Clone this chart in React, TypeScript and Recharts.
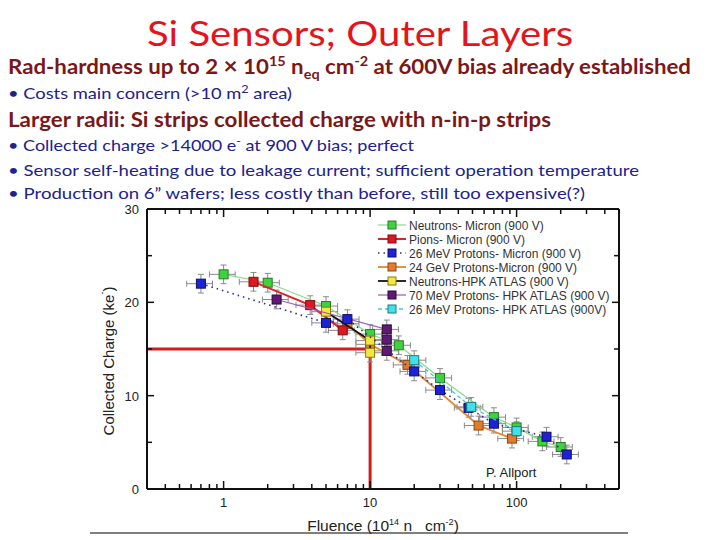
import React from 'react';
import {
  ScatterChart, Scatter, XAxis, YAxis, ErrorBar, ReferenceLine, ReferenceDot, Legend,
} from 'recharts';

// ---------- data (fluence in 1e14 n/cm^2, collected charge in ke-) ----------
const neutronsMicronFluence = [1, 2, 5, 10, 15.7, 30, 70, 100, 150, 200];
const neutronsMicronCharge = [23.0, 22.1, 19.6, 16.6, 15.4, 11.9, 7.7, 6.6, 5.1, 4.5];

const pionsMicronFluence = [1.6, 3.9, 6.5];
const pionsMicronCharge = [22.2, 19.7, 17.0];

const p26MicronFluence = [0.7, 5, 7, 20, 30, 47, 70, 160, 220];
const p26MicronCharge = [22.0, 17.8, 18.2, 12.6, 10.6, 8.7, 7.0, 5.6, 3.7];

const p24GeVMicronFluence = [7, 10, 18, 55, 93];
const p24GeVMicronCharge = [17.7, 15.5, 13.3, 6.8, 5.4];

const neutronsHpkFluence = [5, 10, 10];
const neutronsHpkCharge = [19.0, 15.9, 14.6];

const p70HpkFluence = [2.3, 13, 13, 13];
const p70HpkCharge = [20.3, 17.1, 16.0, 14.8];

const p26HpkFluence = [20, 49, 100];
const p26HpkCharge = [13.8, 8.8, 6.2];

const X_ERR_FRAC = 0.2;
const Y_ERR = 1.0;

const xTicks = [0.3, 0.4, 0.5, 0.6, 0.7, 0.8, 0.9, 1, 2, 3, 4, 5, 6, 7, 8, 9, 10, 20, 30, 40, 50, 60, 70, 80, 90, 100, 200, 300, 400, 500];
const xMajorTicks = [1, 10, 100];
const yTicks = [0, 5, 10, 15, 20, 25, 30];
const yMajorTicks = [0, 10, 20, 30];

const thresholdCharge = 15;
const thresholdFluence = 10;

const build = (f: number[], q: number[]) =>
  f.map((x, i) => ({ x, y: q[i], ex: [x * X_ERR_FRAC, x * X_ERR_FRAC], ey: Y_ERR }));

const SERIES = [
  { name: 'Neutrons- Micron (900 V)', data: build(neutronsMicronFluence, neutronsMicronCharge), line: '#8ad88a', lw: 1.2, dash: undefined, fill: '#3fd23f', border: '#2a7a2a' },
  { name: 'Pions- Micron (900 V)', data: build(pionsMicronFluence, pionsMicronCharge), line: '#e0202a', lw: 2, dash: undefined, fill: '#dd1822', border: '#7a1010' },
  { name: '26 MeV Protons- Micron (900 V)', data: build(p26MicronFluence, p26MicronCharge), line: '#2a2a9a', lw: 1.6, dash: '1.5 4', fill: '#1c22d8', border: '#101060' },
  { name: '24 GeV Protons-Micron (900 V)', data: build(p24GeVMicronFluence, p24GeVMicronCharge), line: '#e08838', lw: 1.8, dash: undefined, fill: '#e47a2c', border: '#8a4a14' },
  { name: 'Neutrons-HPK ATLAS (900 V)', data: build(neutronsHpkFluence, neutronsHpkCharge), line: '#111111', lw: 1.8, dash: undefined, fill: '#f2e640', border: '#8a7a10' },
  { name: '70 MeV Protons- HPK ATLAS (900 V)', data: build(p70HpkFluence, p70HpkCharge), line: '#9a5ab8', lw: 1.2, dash: undefined, fill: '#5e1a74', border: '#2a0a36' },
  { name: '26 MeV Protons- HPK ATLAS (900V)', data: build(p26HpkFluence, p26HpkCharge), line: '#48c8d8', lw: 1.3, dash: '4 3', fill: '#40e2ea', border: '#1e7a82' },
];

// draw order (later on top)
const DRAW_ORDER = [0, 3, 1, 4, 5, 2, 6];

const AXIS_FONT = '"Liberation Sans", Arial, sans-serif';

const makeShape = (fill: string, stroke: string) => (p: any) => (
  <rect x={p.cx - 4.5} y={p.cy - 4.5} width={9} height={9} fill={fill} stroke={stroke} strokeWidth={1} />
);

const NoShape = () => <g />;

const BottomTick = (p: any) => {
  const v = p.payload.value;
  const major = xMajorTicks.includes(v);
  return (
    <g>
      <line x1={p.x} x2={p.x} y1={p.y} y2={p.y - (major ? 8 : 5)} stroke="#111" strokeWidth={1.5} />
      {major && (
        <text x={p.x} y={p.y + 18} textAnchor="middle" fontSize={13} fontFamily={AXIS_FONT} fill="#222">{v}</text>
      )}
    </g>
  );
};

const TopTick = (p: any) => {
  const v = p.payload.value;
  const major = xMajorTicks.includes(v);
  return <line x1={p.x} x2={p.x} y1={p.y} y2={p.y + (major ? 8 : 5)} stroke="#111" strokeWidth={1.5} />;
};

const LeftTick = (p: any) => {
  const v = p.payload.value;
  const major = yMajorTicks.includes(v);
  return (
    <g>
      <line x1={p.x} x2={p.x + (major ? 7 : 5)} y1={p.y} y2={p.y} stroke="#111" strokeWidth={1.5} />
      {major && (
        <text x={p.x - 8} y={p.y + 5} textAnchor="end" fontSize={13} fontFamily={AXIS_FONT} fill="#222">{v}</text>
      )}
    </g>
  );
};

const RightTick = (p: any) => {
  const v = p.payload.value;
  const major = yMajorTicks.includes(v);
  return <line x1={p.x} x2={p.x - (major ? 7 : 5)} y1={p.y} y2={p.y} stroke="#111" strokeWidth={1.5} />;
};

const XLabel = (p: any) => {
  const vb = p.viewBox || { x: 147, y: 489, width: 472, height: 30 };
  return (
    <text x={vb.x + vb.width / 2} y={vb.y + 42} textAnchor="middle" fontSize={15.5} fontFamily={AXIS_FONT} fill="#222">
      Fluence (10<tspan dy={-6} fontSize={9}>14</tspan><tspan dy={6}> n</tspan><tspan>{'\u00a0\u00a0\u00a0'}cm</tspan>
      <tspan dy={-6} fontSize={9}>-2</tspan><tspan dy={6}>)</tspan>
    </text>
  );
};

const YLabel = (p: any) => {
  const vb = p.viewBox || { x: 87, y: 209, width: 60, height: 280 };
  const cx = vb.x + 21;
  const cy = vb.y + vb.height / 2 + 12;
  return (
    <text x={cx} y={cy} transform={`rotate(-90 ${cx} ${cy})`} textAnchor="middle" dominantBaseline="central" fontSize={15} fontFamily={AXIS_FONT} fill="#222">
      Collected Charge (ke<tspan dy={-6} fontSize={9}>-</tspan><tspan dy={6}>)</tspan>
    </text>
  );
};

const renderLegend = () => (
  <svg width={240} height={100} style={{ display: 'block' }}>
    {SERIES.map((s, i) => {
      const cy = 7 + i * 14;
      return (
        <g key={s.name}>
          <line x1={0} x2={28} y1={cy} y2={cy} stroke={s.line} strokeWidth={s.lw} strokeDasharray={s.dash} />
          <rect x={10} y={cy - 4} width={8} height={8} fill={s.fill} stroke={s.border} strokeWidth={1} />
          <text x={31} y={cy + 4.5} fontSize={12} fontFamily={AXIS_FONT} fill="#333">{s.name}</text>
        </g>
      );
    })}
  </svg>
);

const SLIDE_FONT = 'Lato, "Open Sans", sans-serif';
const DARK_RED = '#7a1818';
const NAVY = '#20228c';

function SlideText() {
  return (
    <svg width={720} height={540} style={{ position: 'absolute', left: 0, top: 0 }}>
      <text x={360} y={46} textAnchor="middle" fontSize={35} fill="#e3141c" fontFamily={SLIDE_FONT} textLength={426} lengthAdjust="spacingAndGlyphs">
        Si Sensors; Outer Layers
      </text>
      <text x={8} y={74} fontSize={20} fontWeight="bold" fill={DARK_RED} fontFamily={SLIDE_FONT} textLength={683} lengthAdjust="spacingAndGlyphs">
        Rad-hardness up to 2 <tspan fontSize={22}>{'\u00d7'}</tspan> 10<tspan dy={-8} fontSize={13}>15</tspan>
        <tspan dy={8}> n</tspan><tspan dy={5} fontSize={13}>eq</tspan><tspan dy={-5}> cm</tspan>
        <tspan dy={-8} fontSize={13}>-2</tspan><tspan dy={8}> at 600V bias already established</tspan>
      </text>
      <text x={8} y={99} fontSize={16} fill={NAVY} fontFamily={SLIDE_FONT} textLength={284} lengthAdjust="spacingAndGlyphs">
        {'\u2022 '}Costs main concern ({'>'}10 m<tspan dy={-6} fontSize={11}>2</tspan><tspan dy={6}> area)</tspan>
      </text>
      <text x={8} y={127} fontSize={20} fontWeight="bold" fill={DARK_RED} fontFamily={SLIDE_FONT} textLength={543} lengthAdjust="spacingAndGlyphs">
        Larger radii: Si strips collected charge with n-in-p strips
      </text>
      <text x={8} y={151} fontSize={16} fill={NAVY} fontFamily={SLIDE_FONT} textLength={406} lengthAdjust="spacingAndGlyphs">
        {'\u2022 '}Collected charge {'>'}14000 e<tspan dy={-6} fontSize={11}>-</tspan><tspan dy={6}> at 900 V bias; perfect</tspan>
      </text>
      <text x={8} y={176} fontSize={16} fill={NAVY} fontFamily={SLIDE_FONT} textLength={631} lengthAdjust="spacingAndGlyphs">
        {'\u2022 '}Sensor self-heating due to leakage current; sufficient operation temperature
      </text>
      <text x={8} y={199} fontSize={16} fill={NAVY} fontFamily={SLIDE_FONT} textLength={577} lengthAdjust="spacingAndGlyphs">
        {'\u2022 '}Production on 6{'\u201d'} wafers; less costly than before, still too expensive(?)
      </text>
      <line x1={90} x2={628} y1={533} y2={533} stroke="#555" strokeWidth={1.5} />
    </svg>
  );
}

export default function App() {
  return (
    <div style={{ position: 'absolute', left: 0, top: 0, width: 720, height: 540, background: '#fff', overflow: 'hidden' }}>
      <SlideText />
      <div style={{ position: 'absolute', left: 0, top: 0 }}>
        <ScatterChart width={720} height={540} margin={{ top: 208, right: 100, bottom: 21, left: 87 }}>
          <XAxis
            dataKey="x" type="number" scale="log" domain={[0.3, 500]} allowDataOverflow
            ticks={xTicks} interval={0} tickSize={0} tickMargin={0} tickLine={false}
            tick={<BottomTick />} axisLine={{ stroke: '#111', strokeWidth: 2 }} height={30}
            label={<XLabel />}
          />
          <XAxis
            xAxisId="top" orientation="top" dataKey="x" type="number" scale="log" domain={[0.3, 500]} allowDataOverflow
            ticks={xTicks} interval={0} tickSize={0} tickMargin={0} tickLine={false}
            tick={<TopTick />} axisLine={{ stroke: '#111', strokeWidth: 2 }} height={1}
          />
          <YAxis
            dataKey="y" type="number" domain={[0, 30]} allowDataOverflow ticks={yTicks} interval={0}
            tickSize={0} tickMargin={0} tickLine={false} tick={<LeftTick />}
            axisLine={{ stroke: '#111', strokeWidth: 2 }} width={60} label={<YLabel />}
          />
          <YAxis
            yAxisId="right" orientation="right" dataKey="y" type="number" domain={[0, 30]} allowDataOverflow
            ticks={yTicks} interval={0} tickSize={0} tickMargin={0} tickLine={false} tick={<RightTick />}
            axisLine={{ stroke: '#111', strokeWidth: 2 }} width={1}
          />
          <ReferenceLine
            segment={[{ x: 0.3, y: thresholdCharge }, { x: thresholdFluence, y: thresholdCharge }]}
            stroke="#d41c1c" strokeWidth={3} ifOverflow="visible"
          />
          <ReferenceLine
            segment={[{ x: thresholdFluence, y: thresholdCharge }, { x: thresholdFluence, y: 0 }]}
            stroke="#d41c1c" strokeWidth={3} ifOverflow="visible"
          />
          {/* invisible carrier so the top/right frame axes are registered */}
          <Scatter
            name="frame"
            xAxisId="top"
            yAxisId="right"
            data={SERIES[0].data}
            fill="none"
            legendType="none"
            isAnimationActive={false}
            shape={NoShape}
          />
          {DRAW_ORDER.map((idx) => {
            const s = SERIES[idx];
            return (
              <Scatter
                key={s.name}
                name={s.name}
                data={s.data}
                fill={s.fill}
                isAnimationActive={false}
                line={{ stroke: s.line, strokeWidth: s.lw, strokeDasharray: s.dash }}
                lineType="joint"
                shape={makeShape(s.fill, s.border)}
              >
                <ErrorBar dataKey="ex" direction="x" width={3} stroke="#8a8a8a" strokeWidth={1} isAnimationActive={false} />
                <ErrorBar dataKey="ey" direction="y" width={3} stroke="#8a8a8a" strokeWidth={1} isAnimationActive={false} />
              </Scatter>
            );
          })}
          <ReferenceDot
            x={92} y={1.8} r={0} fill="none" stroke="none" ifOverflow="visible"
            label={{ value: 'P. Allport', position: 'center', fontSize: 13, fill: '#222', fontFamily: AXIS_FONT }}
          />
          <Legend
            layout="vertical" align="center" verticalAlign="middle" content={renderLegend}
            wrapperStyle={{ left: 378, top: 218, width: 240, height: 100 }}
          />
        </ScatterChart>
      </div>
    </div>
  );
}
